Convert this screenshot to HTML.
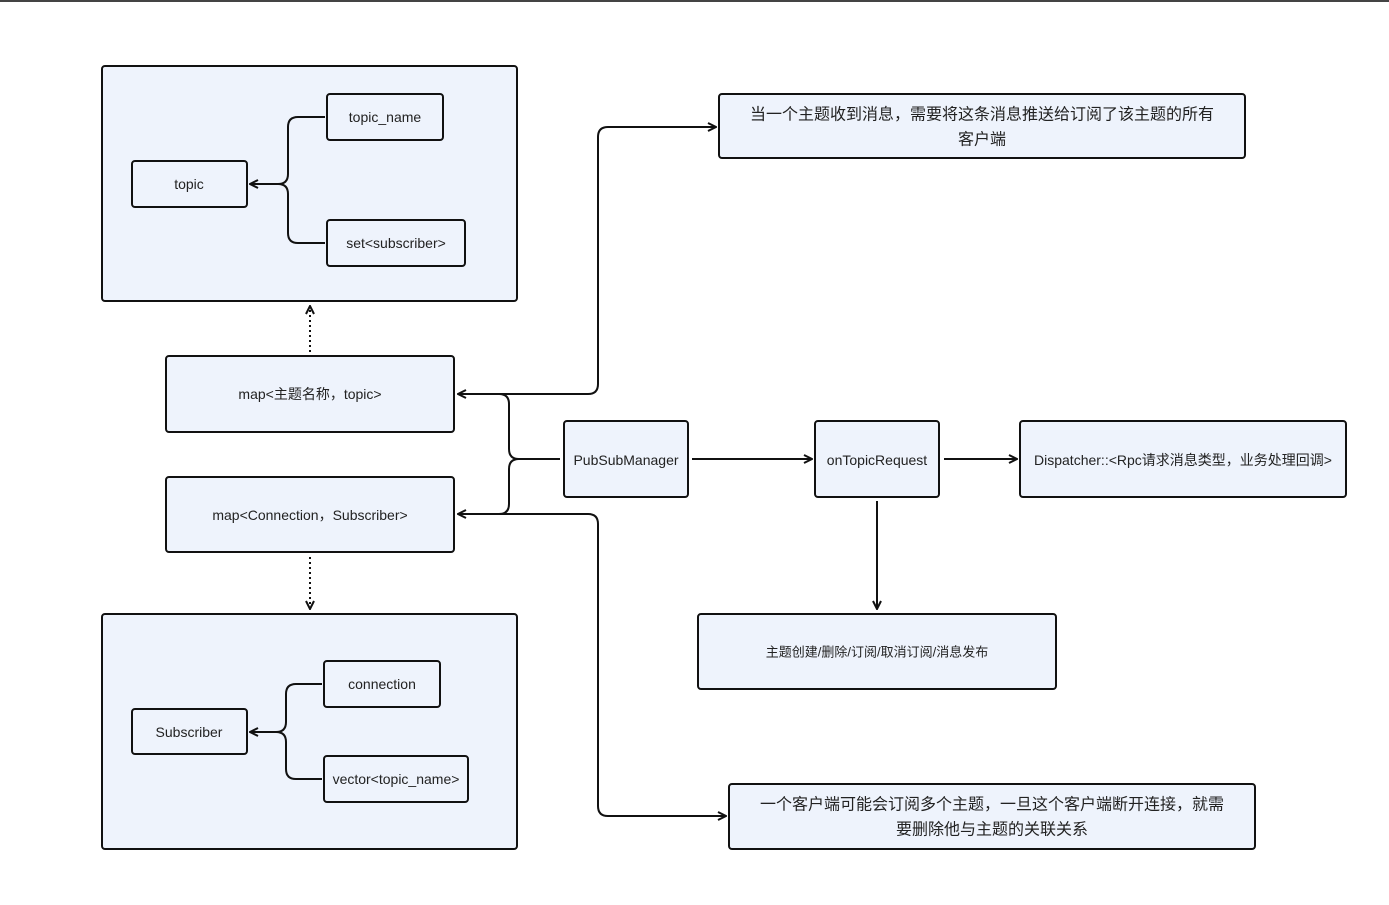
<!DOCTYPE html>
<html><head><meta charset="utf-8"><style>
body{margin:0;background:#fff;}
svg{display:block;}
text{font-family:"Liberation Sans","Noto Sans CJK SC",sans-serif;fill:#222;text-anchor:middle;dominant-baseline:central;}
.b{fill:#eef3fc;stroke:#111;stroke-width:2;}
.l{fill:none;stroke:#111;stroke-width:2;}
.d{fill:none;stroke:#111;stroke-width:2;stroke-dasharray:2 3;}
</style></head><body>
<svg width="1389" height="905" viewBox="0 0 1389 905">
<defs><marker id="a" viewBox="0 0 10 10" refX="9" refY="5" markerWidth="10" markerHeight="10" markerUnits="userSpaceOnUse" orient="auto"><path d="M1,1 L9,5 L1,9" fill="none" stroke="#111" stroke-width="2"/></marker></defs>
<rect x="0" y="0" width="1389" height="2" fill="#444"/>
<rect class="b" x="102" y="66" width="415" height="235" rx="3"/>
<rect class="b" x="132" y="161" width="115" height="46" rx="3"/><text x="189" y="184" font-size="14">topic</text>
<rect class="b" x="327" y="94" width="116" height="46" rx="3"/><text x="385" y="117" font-size="14">topic_name</text>
<rect class="b" x="327" y="220" width="138" height="46" rx="3"/><text x="396" y="243" font-size="14">set&lt;subscriber&gt;</text>
<path class="l" d="M325,117 H298 Q288,117 288,127 V174 Q288,184 278,184 H250" marker-end="url(#a)"/>
<path class="l" d="M325,243 H298 Q288,243 288,233 V194 Q288,184 278,184"/>
<path class="d" d="M310,352 V306" marker-end="url(#a)"/>
<rect class="b" x="166" y="356" width="288" height="76" rx="3"/><text x="310" y="394" font-size="14">map&lt;主题名称，topic&gt;</text>
<rect class="b" x="166" y="477" width="288" height="75" rx="3"/><text x="310" y="515" font-size="14">map&lt;Connection，Subscriber&gt;</text>
<path class="d" d="M310,557 V609" marker-end="url(#a)"/>
<rect class="b" x="102" y="614" width="415" height="235" rx="3"/>
<rect class="b" x="132" y="709" width="115" height="45" rx="3"/><text x="189" y="732" font-size="14">Subscriber</text>
<rect class="b" x="324" y="661" width="116" height="46" rx="3"/><text x="382" y="684" font-size="14">connection</text>
<rect class="b" x="324" y="756" width="144" height="46" rx="3"/><text x="396" y="779" font-size="14">vector&lt;topic_name&gt;</text>
<path class="l" d="M322,684 H296 Q286,684 286,694 V722 Q286,732 276,732 H250" marker-end="url(#a)"/>
<path class="l" d="M322,779 H296 Q286,779 286,769 V742 Q286,732 276,732"/>
<rect class="b" x="564" y="421" width="124" height="76" rx="3"/><text x="626" y="460" font-size="14">PubSubManager</text>
<path class="l" d="M560,459 H519 Q509,459 509,449 V404 Q509,394 499,394 H458" marker-end="url(#a)"/>
<path class="l" d="M519,459 Q509,459 509,469 V504 Q509,514 499,514 H458" marker-end="url(#a)"/>
<path class="l" d="M495,394 H588 Q598,394 598,384 V137 Q598,127 608,127 H716" marker-end="url(#a)"/>
<path class="l" d="M495,514 H588 Q598,514 598,524 V806 Q598,816 608,816 H726" marker-end="url(#a)"/>
<rect class="b" x="719" y="94" width="526" height="64" rx="3"/>
<text x="982" y="115" font-size="16">当一个主题收到消息，需要将这条消息推送给订阅了该主题的所有</text>
<text x="982" y="140" font-size="16">客户端</text>
<rect class="b" x="729" y="784" width="526" height="65" rx="3"/>
<text x="992" y="805" font-size="16">一个客户端可能会订阅多个主题，一旦这个客户端断开连接，就需</text>
<text x="992" y="830" font-size="16">要删除他与主题的关联关系</text>
<path class="l" d="M692,459 H812" marker-end="url(#a)"/>
<rect class="b" x="815" y="421" width="124" height="76" rx="3"/><text x="877" y="460" font-size="14">onTopicRequest</text>
<path class="l" d="M944,459 H1017" marker-end="url(#a)"/>
<rect class="b" x="1020" y="421" width="326" height="76" rx="3"/><text x="1183" y="460" font-size="14">Dispatcher::&lt;Rpc请求消息类型，业务处理回调&gt;</text>
<path class="l" d="M877,501 V609" marker-end="url(#a)"/>
<rect class="b" x="698" y="614" width="358" height="75" rx="3"/><text x="877" y="652" font-size="13">主题创建/删除/订阅/取消订阅/消息发布</text>
</svg>
</body></html>
